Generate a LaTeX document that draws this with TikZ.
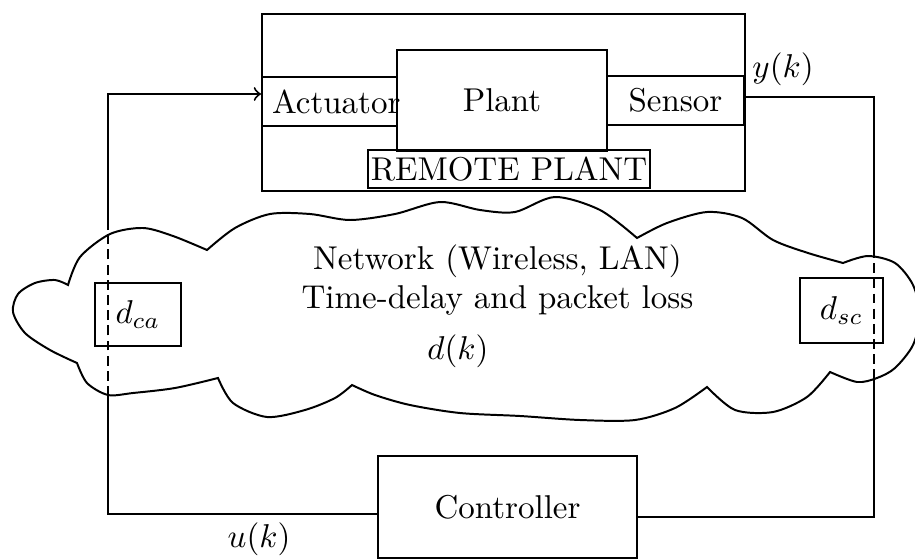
\documentclass[tikz,border=0pt]{standalone}
\usetikzlibrary{math}
\newlength{\unitpx}
\setlength{\unitpx}{0.303pt}
\tikzset{%
  block/.style={draw, semithick, rectangle, inner sep=0pt},
  link/.style={semithick},
  hidden link/.style={semithick, dash pattern=on 3pt off 1.6pt}
}

\begin{document}
\begin{tikzpicture}[x=\unitpx,y=-\unitpx]
    \tikzmath{
      \xca=108; % actuator-side line
      \xsc=874; % sensor-side line
    }
    \useasboundingbox (0,0) rectangle (915,559);
    % remote plant
    \node[block, minimum width=483*\unitpx, minimum height=177*\unitpx] (remote) at (503.5,102.5) {};
    \node[block, minimum width=210*\unitpx, minimum height=101*\unitpx] (plant) at (502,100.5) {Plant};
    \node[block, minimum width=135*\unitpx, minimum height=49*\unitpx, inner xsep=10*\unitpx] (act) at (329.5,101.5) {\makebox[115\unitpx][l]{Actuator}};
    \node[block, minimum width=137*\unitpx, minimum height=49*\unitpx] (sens) at (675.5,100.5) {Sensor};
    \node[block, minimum width=282*\unitpx, minimum height=38*\unitpx] (rlabel) at (509,169) {REMOTE PLANT};
    % network cloud
    \draw[link] plot[smooth] coordinates {(68,285) (80,257) (110,234) (143,228) (173,236) (207,250)}
      -- plot[smooth] coordinates {(207,250) (235,228) (270,214) (310,214) (350,220) (395,214) (440,202) (480,210) (515,212) (555,197) (600,210) (637,238)}
      -- plot[smooth] coordinates {(637,238) (667,223) (707,212) (742,218) (773,240) (808,253) (843,263)}
      -- plot[smooth] coordinates {(843,263) (868,256) (895,263) (913,285) (920,315) (913,345) (895,368) (877,378) (857,382) (830,372)}
      -- plot[smooth] coordinates {(830,372) (807,397) (773,412) (735,410) (707,387)}
      -- plot[smooth] coordinates {(707,387) (675,408) (635,420) (580,420) (520,416) (460,413) (410,405) (375,395) (352,385)}
      -- plot[smooth] coordinates {(352,385) (335,398) (305,410) (267,417) (233,403) (218,378)}
      -- plot[smooth] coordinates {(218,378) (175,388) (133,393) (108,395) (87,383) (77,363)}
      -- plot[smooth] coordinates {(77,363) (50,350) (25,333) (13,312) (18,294) (35,283) (55,280) (68,285)}
      -- cycle;
    \node[align=center] (net) at (497.5,280) {Network (Wireless, LAN)\\Time-delay and packet loss};
    \node (delay) at (458,351) {$d(k)$};
    \node[block, minimum width=86*\unitpx, minimum height=63*\unitpx] (dca) at (138,314.5) {$d_{ca}$};
    \node[block, minimum width=83*\unitpx, minimum height=65*\unitpx] (dsc) at (841.5,310.5) {$d_{sc}$};
    % controller
    \node[block, minimum width=259*\unitpx, minimum height=102*\unitpx] (ctrl) at (507.5,507) {Controller};
    \node (uk) at (259,539) {$u(k)$};
    \node (yk) at (783,69) {$y(k)$};
    % loop
    \coordinate (ca bot) at (\xca,514);
    \coordinate (ca out) at (\xca,396);
    \coordinate (ca in) at (\xca,230);
    \coordinate (ca top) at (\xca,94);
    \coordinate (sc top) at (\xsc,97);
    \coordinate (sc in) at (\xsc,248);
    \coordinate (sc out) at (\xsc,372);
    \coordinate (sc bot) at (\xsc,517);
    \draw[link] (ctrl.west |- ca bot) -- (ca bot) -- (ca out);
    \draw[hidden link] (ca out) -- (ca in);
    \draw[link, ->] (ca in) -- (ca top) -- (act.west |- ca top);
    \draw[link] (sens.east |- sc top) -- (sc top) -- (sc in);
    \draw[hidden link] (sc in) -- (sc out);
    \draw[link] (sc out) -- (sc bot) -- (ctrl.east |- sc bot);
  \end{tikzpicture}
\end{document}
